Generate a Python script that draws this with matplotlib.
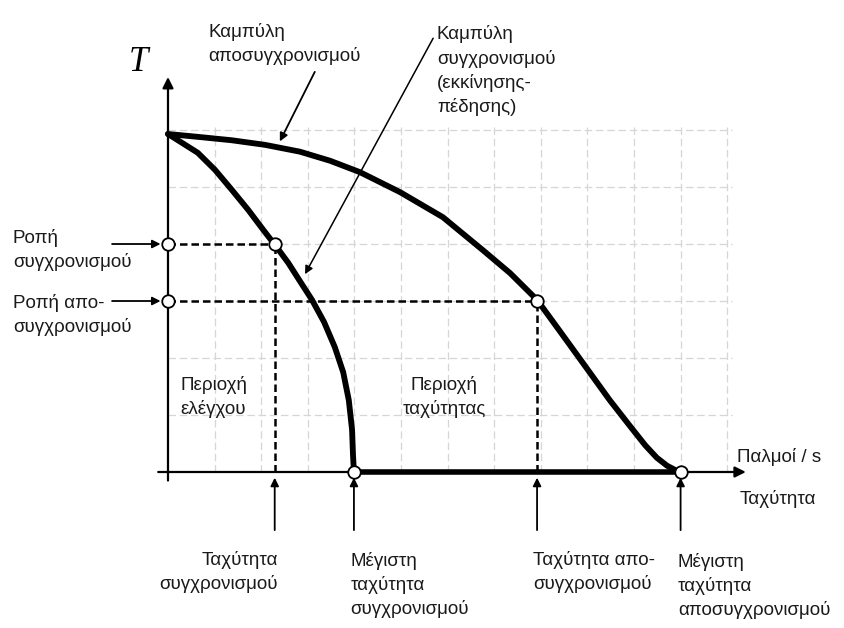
import matplotlib.pyplot as plt

# ===== Δεδομένα (μονάδες πλέγματος: ταχύτητα / ροπή)
# Καμπύλη αποσυγχρονισμού (pull-out)
pullout_speed = [0.0, 0.64, 1.37, 2.08, 2.83, 3.48, 4.12, 4.98, 5.90, 6.76, 7.34, 7.92,
                 8.41, 8.95, 9.48, 9.91, 10.24, 10.49, 10.71, 10.92]
pullout_torque = [5.93, 5.88, 5.82, 5.74, 5.62, 5.46, 5.26, 4.91, 4.47, 3.89, 3.49, 3.02,
                  2.47, 1.86, 1.26, 0.81, 0.47, 0.25, 0.11, 0.02]
# Καμπύλη συγχρονισμού (pull-in)
pullin_speed = [0.0, 0.64, 1.01, 1.37, 1.72, 2.08, 2.30, 2.58, 2.83, 3.09, 3.35, 3.58,
                3.76, 3.88, 3.95, 3.97, 3.99]
pullin_torque = [5.93, 5.60, 5.30, 4.95, 4.60, 4.21, 3.98, 3.67, 3.35, 3.02, 2.63, 2.19,
                 1.75, 1.26, 0.74, 0.30, 0.0]

# χαρακτηριστικά σημεία
pullin_torque_pt = 4.0      # Ροπή συγχρονισμού
pullout_torque_pt = 3.0     # Ροπή αποσυγχρονισμού
pullin_speed_pt = 2.29      # Ταχύτητα συγχρονισμού
max_pullin_speed = 3.99     # Μέγιστη ταχύτητα συγχρονισμού
pullout_speed_pt = 7.92     # Ταχύτητα αποσυγχρονισμού
max_pullout_speed = 11.0    # Μέγιστη ταχύτητα αποσυγχρονισμού

grid_x = list(range(1, 13))
grid_y = list(range(1, 7))

FONT = "Liberation Sans"
FS = 13.5


def main():
    fig = plt.figure(figsize=(8.45, 6.28), dpi=100)
    ax = fig.add_axes([0, 0, 1, 1])
    ax.set_xlim(-3.605, 14.528)
    ax.set_ylim(-2.737, 8.281)
    ax.axis("off")

    # ===== αχνό πλέγμα
    for gx in grid_x:
        ax.plot([gx, gx], [0, 6.1], color="#d6d6d6", lw=0.9, ls=(0, (6, 3)), zorder=0)
    for gy in grid_y:
        ax.plot([0, 12.1], [gy, gy], color="#d6d6d6", lw=0.9, ls=(0, (6, 3)), zorder=0)

    # ===== άξονες
    arrow_kw = dict(arrowstyle="-|>", mutation_scale=16, lw=1.6, color="black",
                    shrinkA=0, shrinkB=0)
    ax.annotate("", xy=(0, 6.93), xytext=(0, -0.15), arrowprops=arrow_kw, zorder=2)
    ax.annotate("", xy=(12.4, 0), xytext=(-0.21, 0), arrowprops=arrow_kw, zorder=2)

    # ===== καμπύλες
    ax.plot(pullout_speed, pullout_torque, color="black", lw=4.2,
            solid_capstyle="round", solid_joinstyle="round", zorder=3)
    ax.plot(pullin_speed, pullin_torque, color="black", lw=4.2,
            solid_capstyle="round", solid_joinstyle="round", zorder=3)
    ax.plot([max_pullin_speed, pullout_speed[-1]], [0, 0], color="black", lw=4.0,
            solid_capstyle="round", zorder=3)

    # ===== διακεκομμένες γραμμές
    dash = dict(color="black", lw=1.8, ls=(0, (3, 1.6)), zorder=2)
    ax.plot([0, pullin_speed_pt], [pullin_torque_pt, pullin_torque_pt], **dash)
    ax.plot([pullin_speed_pt, pullin_speed_pt], [0, pullin_torque_pt], **dash)
    ax.plot([0, pullout_speed_pt], [pullout_torque_pt, pullout_torque_pt], **dash)
    ax.plot([pullout_speed_pt, pullout_speed_pt], [0, pullout_torque_pt], **dash)

    # ===== κύκλοι
    circ_x = [0, pullin_speed_pt, 0, pullout_speed_pt, max_pullin_speed, max_pullout_speed]
    circ_y = [pullin_torque_pt, pullin_torque_pt, pullout_torque_pt, pullout_torque_pt, 0, 0]
    ax.plot(circ_x, circ_y, "o", ms=9, mfc="white", mec="black", mew=1.3, zorder=4)

    # ===== βέλη ετικετών
    small_arrow = dict(arrowstyle="-|>", mutation_scale=12, lw=1.3, color="black",
                       shrinkA=0, shrinkB=0)
    ax.annotate("", xy=(-0.16, pullin_torque_pt), xytext=(-1.20, pullin_torque_pt),
                arrowprops=small_arrow)
    ax.annotate("", xy=(-0.16, pullout_torque_pt), xytext=(-1.20, pullout_torque_pt),
                arrowprops=small_arrow)
    for sx in [pullin_speed_pt, max_pullin_speed, pullout_speed_pt, max_pullout_speed]:
        ax.annotate("", xy=(sx, -0.1), xytext=(sx, -1.02), arrowprops=small_arrow)
    ax.annotate("", xy=(2.40, 5.80), xytext=(3.15, 7.02), arrowprops=small_arrow)
    ax.annotate("", xy=(2.94, 3.47), xytext=(5.69, 7.61),
                arrowprops=dict(small_arrow, lw=1.1))

    # ===== κείμενα
    txt = dict(fontfamily=FONT, fontsize=FS, color="#1a1a1a", linespacing=1.45)
    ax.text(-0.64, 7.19, "T", fontfamily="Liberation Serif", fontstyle="italic",
            fontsize=25, ha="center", va="center")
    ax.text(0.86, 7.51, "Καμπύλη\nαποσυγχρονισμού", ha="left", va="center", **txt)
    ax.text(5.77, 7.04, "Καμπύλη\nσυγχρονισμού\n(εκκίνησης-\nπέδησης)",
            ha="left", va="center", **txt)
    ax.text(-3.33, 3.89, "Ροπή\nσυγχρονισμού", ha="left", va="center", **txt)
    ax.text(-3.33, 2.75, "Ροπή απο-\nσυγχρονισμού", ha="left", va="center", **txt)
    ax.text(0.26, 1.32, "Περιοχή\nελέγχου", ha="left", va="center", **txt)
    ax.text(5.92, 1.32, "Περιοχή\nταχύτητας", ha="center", va="center",
            multialignment="center", **txt)
    ax.text(12.21, 0.26, "Παλμοί / s", ha="left", va="center", **txt)
    ax.text(12.27, -0.47, "Ταχύτητα", ha="left", va="center", **txt)
    ax.text(2.36, -1.75, "Ταχύτητα\nσυγχρονισμού", ha="right", va="center",
            multialignment="right", **txt)
    ax.text(3.91, -1.98, "Μέγιστη\nταχύτητα\nσυγχρονισμού", ha="left", va="center", **txt)
    ax.text(7.83, -1.75, "Ταχύτητα απο-\nσυγχρονισμού", ha="left", va="center", **txt)
    ax.text(10.94, -2.0, "Μέγιστη\nταχύτητα\nαποσυγχρονισμού", ha="left", va="center", **txt)

    fig.savefig("out.png", dpi=100, facecolor="white")


if __name__ == "__main__":
    main()
